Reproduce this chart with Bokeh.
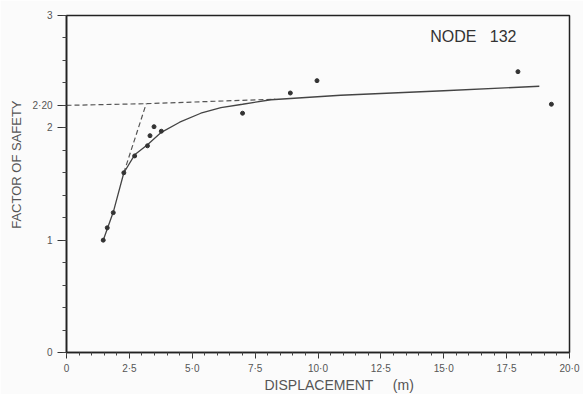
from bokeh.plotting import figure
from bokeh.models import Range1d, FixedTicker, CustomJSTickFormatter, Label, Title
from bokeh.embed import file_html
from bokeh.resources import INLINE

# ---- data ----
obs_disp = [1.46, 1.62, 1.86, 2.28, 2.71, 3.22, 3.32, 3.48, 3.77, 7.0, 8.9, 9.96, 17.95, 19.28]
obs_fos = [1.00, 1.11, 1.245, 1.60, 1.75, 1.84, 1.93, 2.01, 1.97, 2.13, 2.31, 2.42, 2.50, 2.21]

curve_disp = [1.46, 1.86, 2.28, 2.71, 3.22, 3.77, 4.5, 5.34, 6.14, 7.0, 8.13, 10.9, 15.0, 18.8]
curve_fos = [1.00, 1.25, 1.60, 1.76, 1.85, 1.96, 2.05, 2.13, 2.18, 2.21, 2.25, 2.29, 2.33, 2.37]

steep_disp = [2.28, 3.17]
steep_fos = [1.60, 2.215]
flat_disp = [0.0, 3.17, 8.3]
flat_fos = [2.20, 2.215, 2.255]

x_ticks = [0, 2.5, 5, 7.5, 10, 12.5, 15, 17.5, 20]
x_labels = ["0", "2·5", "5·0", "7·5", "10·0", "12·5", "15·0", "17·5", "20·0"]
x_minor = [i * 0.5 for i in range(41)]
y_ticks = [0, 1, 2, 2.2, 3]
y_labels = ["0", "1", "2", "2·20", "3"]
y_minor = [round(i * 0.2, 1) for i in range(16)]

FONT = "Liberation Sans"
BG = "#fbfbfb"
NBSP = "\u00a0"

p = figure(width=583, height=394, output_backend="svg", toolbar_location=None,
           x_range=Range1d(0, 20), y_range=Range1d(0, 3),
           min_border_left=66, min_border_right=14, min_border_top=15, min_border_bottom=41,
           background_fill_color=BG, border_fill_color=BG)
p.grid.visible = False
p.outline_line_color = "#222222"
p.outline_line_width = 1.5

fmt_js = "const i = tvals.indexOf(tick); return i >= 0 ? tlabs[i] : '';"
p.xaxis.ticker = FixedTicker(ticks=x_ticks, minor_ticks=x_minor)
p.xaxis.formatter = CustomJSTickFormatter(args=dict(tvals=x_ticks, tlabs=x_labels), code=fmt_js)
p.yaxis.ticker = FixedTicker(ticks=y_ticks, minor_ticks=y_minor)
p.yaxis.formatter = CustomJSTickFormatter(args=dict(tvals=y_ticks, tlabs=y_labels), code=fmt_js)

for ax in (p.xaxis[0], p.yaxis[0]):
    ax.axis_line_color = "#222222"
    ax.axis_line_width = 1.6
    ax.major_tick_line_color = "#333333"
    ax.minor_tick_line_color = "#444444"
    ax.major_tick_in = 0
    ax.minor_tick_in = 0
    ax.major_label_text_font = FONT
    ax.major_label_text_font_size = "10px"
    ax.major_label_text_color = "#555555"

p.xaxis.major_tick_out = 6
p.xaxis.minor_tick_out = 3
p.xaxis.major_label_standoff = 4

p.yaxis.major_tick_out = 9
p.yaxis.minor_tick_out = 4
p.yaxis.major_label_standoff = 5

p.add_layout(Title(text="FACTOR OF SAFETY", align="right", offset=85, vertical_align="middle",
                   text_font=FONT, text_font_size="13px", text_font_style="normal",
                   text_color="#555555"), "left")
p.add_layout(Title(text="DISPLACEMENT" + NBSP * 5 + "(m)", align="left", offset=198,
                   vertical_align="top", standoff=0, text_line_height=0.9,
                   text_font=FONT, text_font_size="14px", text_font_style="normal",
                   text_color="#555555"), "below")

p.line(flat_disp, flat_fos, line_color="#555555", line_width=1.2, line_dash="5 3")
p.line(steep_disp, steep_fos, line_color="#555555", line_width=1.2, line_dash="5 3")
p.line(curve_disp, curve_fos, line_color="#444444", line_width=1.3)
p.scatter(obs_disp, obs_fos, size=4, color="#333333")

p.add_layout(Label(x=14.46, y=2.81, text="NODE" + NBSP * 3 + "132", text_font=FONT,
                   text_font_size="16px", text_color="#333333", text_align="left",
                   text_baseline="middle"))

open("out.html", "w").write(file_html(p, INLINE))
